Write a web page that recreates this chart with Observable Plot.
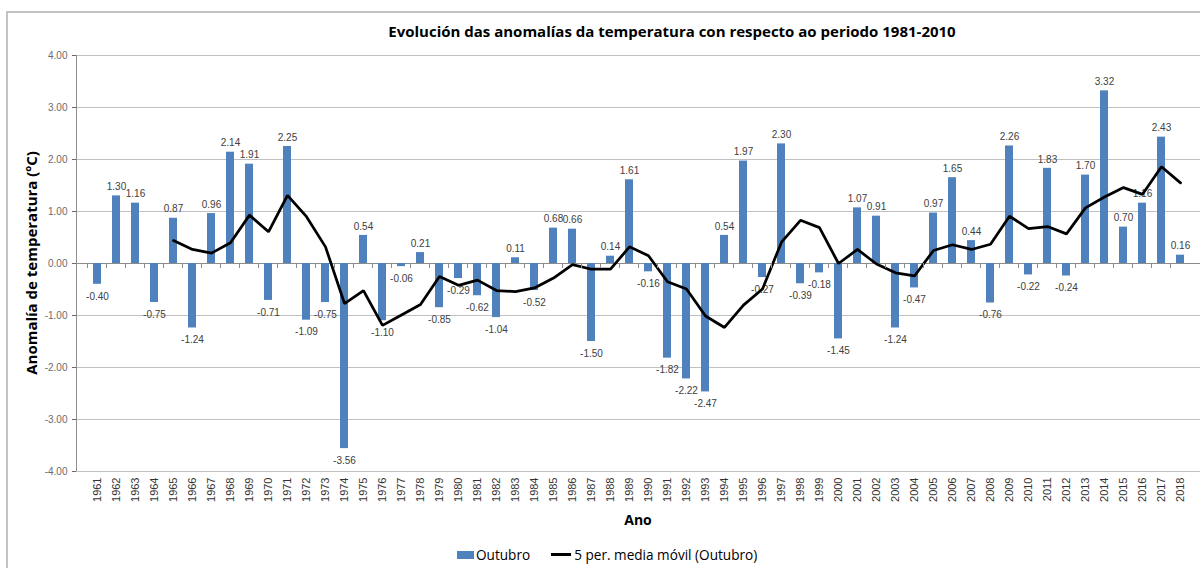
<!DOCTYPE html>
<html><head><meta charset="utf-8">
<script src="https://cdn.jsdelivr.net/npm/d3@7"></script>
<script src="https://cdn.jsdelivr.net/npm/@observablehq/plot@0.6"></script>
<style>
body{margin:0;background:#fff;width:1200px;height:568px;overflow:hidden;position:relative;font-family:"Open Sans",sans-serif;}
#frame{position:absolute;left:6px;top:11px;width:1300px;height:700px;border:2px solid #c3c3c3;box-sizing:border-box}
#title{position:absolute;left:272px;width:800px;top:21px;text-align:center;font-weight:bold;font-size:15px;color:#000;white-space:nowrap}
#chart{position:absolute;left:0;top:0}
#legend{position:absolute;top:545px;left:457px;display:flex;align-items:center;font-size:13.6px;color:#000;white-space:nowrap}
.sw{display:inline-block;width:17px;height:8px;background:#4F81BD;margin-right:2px}
.ln{display:inline-block;width:20px;height:3px;background:#000;margin-left:21px;margin-right:3px}
</style></head>
<body>
<div id="frame"></div>
<div id="chart"></div>
<div id="title">Evolución das anomalías da temperatura con respecto ao periodo 1981-2010</div>
<div id="legend"><span class="sw"></span><span>Outubro</span><span class="ln"></span><span>5 per. media móvil (Outubro)</span></div>
<script>
const years = [1961,1962,1963,1964,1965,1966,1967,1968,1969,1970,1971,1972,1973,1974,1975,1976,1977,1978,1979,1980,
  1981,1982,1983,1984,1985,1986,1987,1988,1989,1990,1991,1992,1993,1994,1995,1996,1997,1998,1999,2000,
  2001,2002,2003,2004,2005,2006,2007,2008,2009,2010,2011,2012,2013,2014,2015,2016,2017,2018];
const anomalies = [-0.40,1.30,1.16,-0.75,0.87,-1.24,0.96,2.14,1.91,-0.71,2.25,-1.09,-0.75,-3.56,0.54,-1.10,-0.06,0.21,-0.85,-0.29,
  -0.62,-1.04,0.11,-0.52,0.68,0.66,-1.50,0.14,1.61,-0.16,-1.82,-2.22,-2.47,0.54,1.97,-0.27,2.30,-0.39,-0.18,-1.45,
  1.07,0.91,-1.24,-0.47,0.97,1.65,0.44,-0.76,2.26,-0.22,1.83,-0.24,1.70,3.32,0.70,1.16,2.43,0.16];
const movingAvg = [null,null,null,null,0.44,0.27,0.20,0.40,0.93,0.61,1.31,0.90,0.32,-0.77,-0.52,-1.19,-0.99,-0.79,-0.25,-0.42,
  -0.32,-0.52,-0.54,-0.47,-0.28,-0.02,-0.11,-0.11,0.32,0.15,-0.35,-0.49,-1.01,-1.23,-0.80,-0.49,0.41,0.83,0.69,0.00,
  0.27,-0.01,-0.18,-0.24,0.25,0.36,0.27,0.37,0.91,0.67,0.71,0.57,1.07,1.28,1.46,1.33,1.86,1.55];
const yTicks = [-4,-3,-2,-1,0,1,2,3,4];

const bars = years.map((y,i)=>({year:y, value:anomalies[i]}));
const ma = years.map((y,i)=>({year:y, value:movingAvg[i]})).filter(d=>d.value!=null);
const fmt = v => v.toFixed(2);

const W = 1200, H = 530, mL = 76, mT = 55, mB = 59;
const plot = Plot.plot({
  width: W, height: H, marginTop: mT, marginBottom: mB, marginLeft: mL, marginRight: 0,
  style: {background: "transparent", fontFamily: "'Liberation Sans', Arial, sans-serif"},
  x: {type: "band", domain: years, paddingInner: 0.6, paddingOuter: 0.3, label: null},
  y: {domain: [-4, 4], label: null},
  marks: [
    Plot.gridY(yTicks, {stroke: "#c0c0c0", strokeOpacity: 1}),
    Plot.axisY(yTicks, {tickFormat: fmt, tickSize: 4, tickPadding: 5, fontSize: 10, color: "#6a6a6a", label: null}),
    Plot.axisX(years, {tickFormat: d => String(d), tickRotate: -90, tickSize: 0, tickPadding: 6, fontSize: 11, color: "#333", label: null}),
    Plot.ruleY([0], {stroke: "#8c8c8c"}),
    Plot.barY(bars, {x: "year", y: "value", fill: "#4F81BD"}),
    Plot.text(bars.filter(d=>d.value>=0), {x: "year", y: "value", text: d=>fmt(d.value), dy: -9, fontSize: 10, fill: "#404040"}),
    Plot.text(bars.filter(d=>d.value<0), {x: "year", y: "value", text: d=>fmt(d.value), dy: 12, fontSize: 10, fill: "#404040"}),
    Plot.line(ma, {x: "year", y: "value", stroke: "#000", strokeWidth: 2.75, strokeLinejoin: "miter"})
  ]
});
document.getElementById("chart").appendChild(plot);

const svg = d3.select(plot);
const xs = plot.scale("x"), ys = plot.scale("y");
const y0 = ys.apply(0);
const gap = (xs.step - xs.bandwidth) / 2;
const tg = svg.append("g").attr("stroke", "#8c8c8c");
years.forEach(yr => {
  const xb = xs.apply(yr) - gap;
  tg.append("line").attr("x1", xb).attr("x2", xb).attr("y1", y0).attr("y2", y0 + 5);
});
// y axis line
svg.append("line").attr("x1", mL + 0.5).attr("x2", mL + 0.5).attr("y1", ys.apply(4)).attr("y2", ys.apply(-4)).attr("stroke", "#8c8c8c");
// axis titles
svg.append("text").attr("transform", `translate(33,${y0}) rotate(-90)`).attr("text-anchor", "middle")
  .attr("dominant-baseline", "middle").attr("font-family", "'Open Sans', sans-serif").attr("font-weight", "bold")
  .attr("font-size", 15).attr("fill", "#000").text("Anomalía de temperatura (ºC)");
svg.append("text").attr("x", 638).attr("y", 521).attr("text-anchor", "middle").attr("dominant-baseline", "middle")
  .attr("font-family", "'Open Sans', sans-serif").attr("font-weight", "bold").attr("font-size", 14).attr("fill", "#000").text("Ano");
</script>
</body></html>
